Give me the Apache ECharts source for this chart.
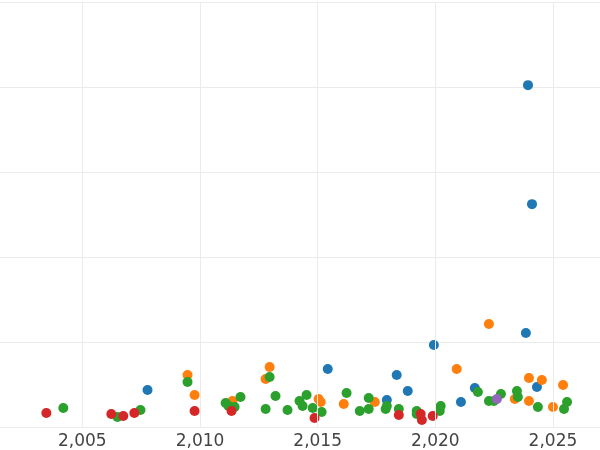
<!DOCTYPE html>
<html>
<head>
<meta charset="utf-8">
<script src="https://cdn.jsdelivr.net/npm/echarts@6/dist/echarts.min.js"></script>
<style>html,body{margin:0;background:#fff}#chart{width:600px;height:450px}</style>
</head>
<body>
<div id="chart"></div>
<script>
// [year, value]
const red = [[2003.47,16.5],[2006.23,15.3],[2006.74,12.9],[2007.21,16.5],[2009.77,18.8],[2011.34,18.8],[2014.87,10.6],[2018.45,14.1],[2019.38,15.3],[2019.43,8.2],[2019.89,12.9]]
const green = [[2004.19,22.3],[2006.49,11.8],[2007.47,20.0],[2009.47,52.9],[2011.09,28.2],[2011.21,24.7],[2011.47,23.5],[2011.72,35.3],[2012.79,21.2],[2012.96,58.8],[2013.21,36.5],[2013.72,20.0],[2014.23,30.6],[2014.36,24.7],[2014.53,37.6],[2014.79,22.3],[2015.17,17.6],[2016.23,40.0],[2016.79,18.8],[2017.17,34.1],[2017.17,21.2],[2017.89,21.2],[2017.94,24.7],[2018.45,21.2],[2019.21,18.8],[2019.21,15.3],[2020.19,18.8],[2020.23,24.7],[2021.81,41.2],[2022.28,30.6],[2022.49,30.6],[2022.79,38.8],[2023.47,42.3],[2023.51,35.3],[2024.36,23.5],[2025.47,21.2],[2025.60,29.4]]
const blue = [[2007.77,43.5],[2015.43,68.2],[2018.36,61.2],[2018.83,42.3],[2017.94,31.8],[2019.94,96.4],[2021.09,29.4],[2021.68,45.9],[2023.85,110.5],[2024.32,47.0],[2023.94,402.2],[2024.11,262.2]]
const orange = [[2009.47,61.2],[2009.77,37.6],[2011.38,30.6],[2012.79,56.5],[2012.96,70.6],[2015.04,32.9],[2015.13,29.4],[2016.11,27.0],[2017.43,29.4],[2020.91,68.2],[2022.28,121.1],[2023.38,32.9],[2023.98,57.6],[2023.98,30.6],[2024.53,55.3],[2025.0,23.5],[2025.43,49.4]]
const purple = [[2022.62,32.9]]
const yearTicks = [2005, 2010, 2015, 2020, 2025]

const chart = echarts.init(document.getElementById('chart'))
const sc = (data, color) => ({
  type: 'scatter', data, symbolSize: 10, itemStyle: { color, opacity: 1 }, silent: true
})
const series = [sc(blue, '#1f77b4'), sc(orange, '#ff7f0e'), sc(green, '#2ca02c'), sc(red, '#d62728'), sc(purple, '#9467bd')]
series.unshift({
  type: 'scatter', data: [], silent: true,
  markLine: {
    silent: true, symbol: 'none', label: { show: false },
    lineStyle: { color: '#ebebeb', width: 1, type: 'solid' },
    data: yearTicks.map(y => ({ xAxis: y }))
  }
})
chart.setOption({
  animation: false,
  grid: { left: 0, right: 0, top: 2, bottom: 23 },
  xAxis: {
    type: 'value', min: 2001.5, max: 2027,
    axisLine: { show: false }, axisTick: { show: false }, splitLine: { show: false },
    axisLabel: { customValues: yearTicks, color: '#444', fontSize: 17, fontFamily: 'DejaVu Sans', margin: 6 }
  },
  yAxis: {
    type: 'value', min: 0, max: 500, interval: 100,
    axisLabel: { show: false }, axisLine: { show: false }, axisTick: { show: false },
    splitLine: { lineStyle: { color: '#ebebeb' } }
  },
  series
})
</script>
</body>
</html>
